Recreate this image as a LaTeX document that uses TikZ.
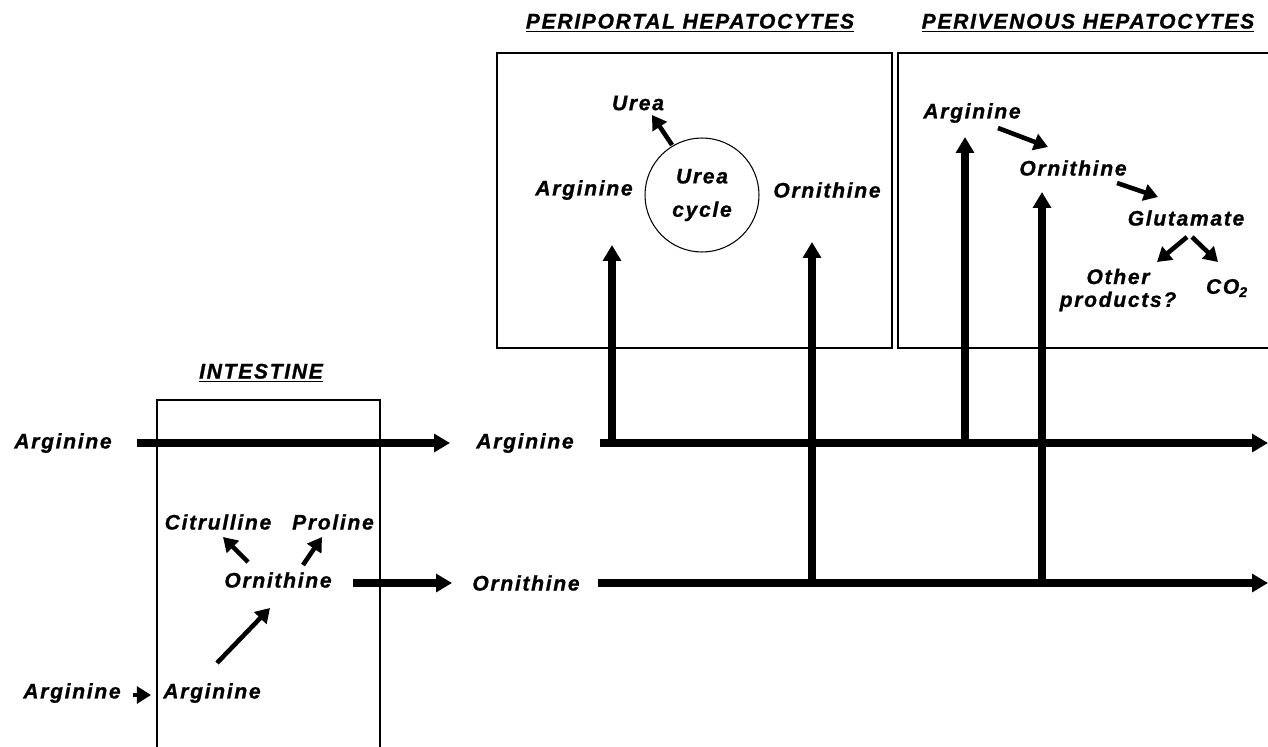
\documentclass[tikz,border=0pt]{standalone}
\usepackage{fontspec}
\newfontfamily\labfont[LetterSpace=8,FakeBold=1]{Liberation Sans}
\usetikzlibrary{arrows.meta}
\newcommand{\feedup}[2]
{\draw[bigflow] (#1 |- #2) -- (#1);
}
\newcommand{\branch}[4]
{\draw[minorflow] ([shift={#2}]#1.center) -- ([shift={#4}]#3.center);
}

\begin{document}
\begin{tikzpicture}[x={(.02cm,0)},y={(0,-.02cm)},
	lab/.style={font=\labfont\fontsize{12}{13}\selectfont\bfseries\itshape,inner sep=1pt},
	bigflow/.style={line width=4pt,-{Triangle[length=9pt,width=10pt]}},
	minorflow/.style={line width=2.6pt,-{Triangle[length=8pt,width=9.5pt]}},
	organ/.style={line width=1.2pt},
	ureacirc/.style={circle,draw,line width=.6pt,minimum size=2.28cm,inner sep=0pt,align=center,
		font=\labfont\fontsize{12}{19}\selectfont\bfseries\itshape}]
	\useasboundingbox (0,0) rectangle (1268,747);
	\clip (0,0) rectangle (1268,747);
	\draw[organ] (157,760) -- (157,400) -- (380,400) -- (380,760);
	\draw[organ] (497,53) rectangle (892,348);
	\draw[organ] (898,53) rectangle (1290,348);
	\node[lab] (gutTitle) at (261,373) {\underline{INTESTINE}};
	\node[lab] (ppTitle) at (690,23) {\underline{PERIPORTAL HEPATOCYTES}};
	\node[lab] (pvTitle) at (1088,23) {\underline{PERIVENOUS HEPATOCYTES}};

	\node[lab] (argIn) at (63,443) {Arginine};
	\node[lab] (argMid) at (525,443) {Arginine};
	\coordinate (argEnd) at (1268,443);
	\node[lab] (ornGut) at (278,580) {Ornithine};
	\node[lab] (ornMid) at (526,583) {Ornithine};
	\coordinate (ornEnd) at (1268,583);
	\node[lab] (citGut) at (218,522) {Citrulline};
	\node[lab] (proGut) at (333,522) {Proline};
	\node[lab] (argGut) at (212,693) {Arginine};
	\node[lab] (argBlood) at (72,693) {Arginine};

	\node[ureacirc] (cyc) at (702,195) {Urea\\cycle};
	\node[lab] (urea) at (638,103) {Urea};
	\node[lab] (argPP) at (584,190) {Arginine};
	\node[lab] (ornPP) at (827,190) {Ornithine};
	\coordinate (ppA) at (612,245);
	\coordinate (ppO) at (812,242);

	\node[lab] (argPV) at (972,113) {Arginine};
	\node[lab] (ornPV) at (1073,168) {Ornithine};
	\node[lab] (gluPV) at (1186,218) {Glutamate};
	\node[lab,align=center] (othPV) at (1118,290) {Other\\products?};
	\node[lab] (co2PV) at (1227,288) {CO\textsubscript{2}};
	\coordinate (pvA) at (965,137);
	\coordinate (pvO) at (1042,192);

	\draw[bigflow] ([shift={(74,0)}]argIn.center) -- ([shift={(-75,0)}]argMid.center);
	\draw[bigflow] ([shift={(75,0)}]argMid.center) -- (argEnd);
	\draw[bigflow] ([shift={(75,3)}]ornGut.center) -- ([shift={(-74,0)}]ornMid.center);
	\draw[bigflow] ([shift={(72,0)}]ornMid.center) -- (ornEnd);
	\feedup{ppA}{argMid}
	\feedup{ppO}{ornMid}
	\feedup{pvA}{argMid}
	\feedup{pvO}{ornMid}

	\branch{ornGut}{(-30,-18)}{citGut}{(5,15)}
	\branch{ornGut}{(25,-15)}{proGut}{(-11,15)}
	\branch{argGut}{(5,-30)}{ornGut}{(-8,28)}
	\branch{argBlood}{(61,2)}{argGut}{(-61,2)}
	\branch{cyc}{(-30,-50)}{urea}{(14,12)}
	\branch{argPV}{(26,15)}{ornPV}{(-25,-21)}
	\branch{ornPV}{(44,15)}{gluPV}{(-28,-21)}
	\branch{gluPV}{(1,19)}{othPV}{(39,-28)}
	\branch{gluPV}{(6,19)}{co2PV}{(-9,-26)}
\end{tikzpicture}
\end{document}
